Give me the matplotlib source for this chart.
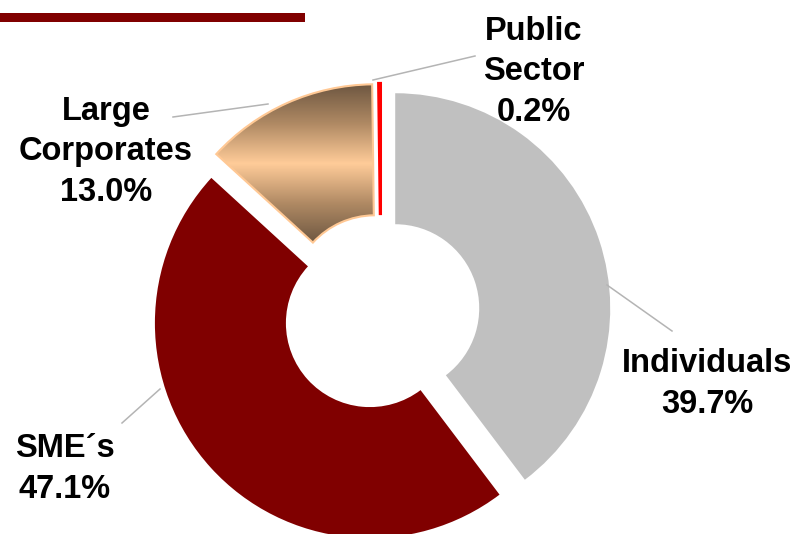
import numpy as np
import matplotlib.pyplot as plt
import matplotlib.patches as mpatches
from matplotlib.colors import LinearSegmentedColormap

# Loan portfolio breakdown by segment
segments = ["Individuals", "SME´s", "Large\nCorporates", "Public\nSector"]
shares = [39.7, 47.1, 13.0, 0.2]
colors = ["#C0C0C0", "#800000", "#FFCC99", "#FF0000"]

W, H = 800, 534
plt.rcParams['font.family'] = ['Liberation Sans', 'DejaVu Sans']

fig = plt.figure(figsize=(W / 100, H / 100), dpi=100)
ax = fig.add_axes([0, 0, 1, 1])

def py(y):
    # pixel rows counted from the top
    return H - y

center = (381, py(313))
wedges, _ = ax.pie(shares, colors=colors, startangle=90, counterclock=False,
                   radius=215, center=center, explode=[15, 15, 15, 15],
                   wedgeprops=dict(width=131, linewidth=0))

# Large Corporates: metallic vertical gradient, peach outline
lc = wedges[2]
lc.set_edgecolor("#FFC894")
lc.set_linewidth(1.5)
lc.set_facecolor("none")
ext = lc.get_path().get_extents(lc.get_patch_transform())
grad_cmap = LinearSegmentedColormap.from_list(
    "bronze", ["#6E5741", "#B08A64", "#FFCC99", "#B08A64", "#6E5741"])
grad = np.linspace(0, 1, 256).reshape(-1, 1)
img = ax.imshow(grad, cmap=grad_cmap, aspect="auto",
                extent=(ext.x0, ext.x1, ext.y0, ext.y1), zorder=0.9)
img.set_clip_path(lc)
lc.set_zorder(1.1)

# Public Sector sliver drawn as a thin red bar
wedges[3].set_edgecolor("#FF0000")
wedges[3].set_linewidth(1.6)

# leader lines
leaders = [
    [(607, 285), (672, 331)],
    [(160, 389), (122, 423)],
    [(268, 104), (173, 117)],
    [(373, 80), (475, 56)],
]
for (x0, y0), (x1, y1) in leaders:
    ax.plot([x0, x1], [py(y0), py(y1)], color="#B4B4B4", lw=1.1)

# labels (y = baseline of the percentage line)
label_pos = [(707, 413), (65, 498), (106, 201), (534, 121)]
for name, val, (x, y) in zip(segments, shares, label_pos):
    ax.text(x, py(y), "{}\n{:.1f}%".format(name, val), ha="center",
            va="baseline", fontsize=23.5, fontweight="bold", linespacing=1.4)

# title rule
ax.add_patch(mpatches.Rectangle((0, py(22)), 305, 9, color="#800000", lw=0))

ax.set_xlim(0, W)
ax.set_ylim(0, H)
ax.set_aspect("equal")
ax.axis("off")
fig.savefig("out.png", dpi=100)
